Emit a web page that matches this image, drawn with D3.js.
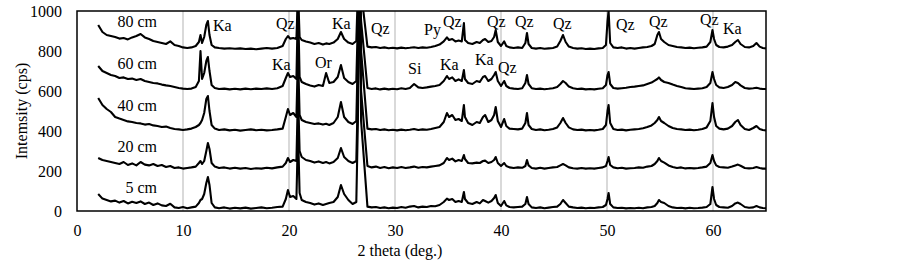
<!DOCTYPE html>
<html><head><meta charset="utf-8">
<script src="https://cdn.jsdelivr.net/npm/d3@7"></script>
<style>body{margin:0;background:#fff} svg{display:block} text{font-family:"Liberation Serif","Times New Roman",serif;fill:#000}</style>
</head><body><svg id="c" width="903" height="265"></svg>
<script>
// ---------- DATA ----------
const twoTheta = [
 2.0,2.4,2.8,3.2,3.6,4.0,4.4,4.8,5.2,5.6,6.0,6.4,6.8,7.2,7.6,8.0,8.4,8.8,9.2,9.6,10.0,10.4,10.8,
 11.2,11.5,11.65,11.8,12.0,12.2,12.35,12.5,12.7,13.0,
 13.4,13.9,14.4,14.9,15.4,15.9,16.4,16.9,17.4,17.9,18.4,18.9,19.4,
 19.7,19.9,20.1,20.4,20.7,20.85,21.0,21.2,
 21.6,22.0,22.4,22.8,23.2,23.5,23.8,24.2,24.6,24.9,25.2,25.6,26.0,26.35,
 26.5,26.6,26.7,26.8,
 27.4,27.8,28.2,28.6,29.0,29.4,29.8,30.2,30.6,31.0,31.4,31.8,32.2,32.6,33.0,33.4,33.8,34.2,34.6,
 34.9,35.1,35.4,35.7,36.0,36.3,36.5,36.6,36.9,37.3,37.7,38.0,38.3,38.5,38.8,39.1,39.35,39.5,39.7,40.0,40.3,40.5,40.8,
 41.2,41.6,42.0,42.3,42.45,42.6,42.9,43.3,43.7,44.1,44.5,44.9,45.3,
 45.6,45.85,46.1,46.4,
 46.8,47.2,47.6,48.0,48.4,48.8,49.2,49.6,49.9,
 50.05,50.15,50.3,50.6,
 51.0,51.4,51.8,52.2,52.6,53.0,53.4,53.8,54.2,54.5,
 54.75,54.9,55.1,55.4,55.8,
 56.2,56.6,57.0,57.4,57.8,58.2,58.6,59.0,59.4,59.75,
 59.95,60.1,60.3,60.6,
 61.0,61.4,61.8,62.1,62.35,62.6,63.0,63.4,63.8,64.1,64.4,64.7,65.0
];
const cps5 = [
 85,62,55,48,52,42,50,38,46,40,48,35,42,30,38,28,25,36,18,15,20,14,18,
 22,40,55,60,85,140,170,130,40,18,
 14,18,12,16,13,17,12,15,18,14,16,20,22,
 60,105,70,75,60,400,90,55,
 45,40,32,38,30,35,40,45,70,130,85,55,35,45,
 450,1100,1100,450,
 22,18,20,15,18,14,17,15,20,16,22,25,18,22,20,25,24,30,45,
 62,55,60,45,50,45,95,60,40,35,45,38,55,50,42,50,65,80,40,25,50,28,20,
 18,20,22,35,70,35,18,15,18,14,17,20,22,
 35,55,40,22,
 18,15,17,14,16,15,18,20,30,
 60,90,35,18,
 15,16,13,15,14,16,14,18,20,25,
 40,55,45,40,25,
 18,15,16,13,16,14,15,17,20,35,
 120,60,30,20,
 18,16,25,38,42,35,20,16,18,25,18,15,14
];
const cps20 = [
 265,255,250,245,240,235,245,230,238,228,245,232,228,235,225,230,220,225,215,218,212,215,218,
 222,240,250,235,250,300,340,310,240,222,
 215,218,212,216,212,215,210,214,212,216,213,218,222,
 240,265,245,255,250,600,300,270,
 255,250,242,248,240,245,238,245,265,315,270,250,240,250,
 600,1100,1100,600,
 225,218,222,215,220,214,218,215,220,215,218,222,216,220,218,222,225,228,240,
 265,255,262,248,255,250,280,260,240,238,242,240,250,252,240,245,255,270,240,225,240,225,218,
 215,218,216,225,255,228,215,212,216,212,215,218,220,
 228,235,228,218,
 214,212,215,212,214,212,215,218,225,
 250,270,230,218,
 214,216,212,214,215,218,216,222,225,235,
 250,265,250,242,228,
 220,215,218,213,215,213,215,218,222,240,
 280,250,228,220,
 218,216,222,228,232,226,215,213,215,220,215,212,212
];
const cps40 = [
 565,530,510,495,470,462,455,448,445,440,438,432,435,428,425,420,422,415,410,408,405,408,412,
 420,430,440,455,490,560,575,500,430,412,
 405,408,403,406,402,405,408,404,406,403,405,408,412,
 470,510,480,490,470,790,480,455,
 445,440,435,438,432,436,430,440,470,545,470,445,435,450,
 800,1100,1100,800,
 412,408,410,405,408,404,406,403,407,404,406,410,405,408,406,410,415,420,445,
 490,470,480,455,460,450,530,470,440,430,445,440,470,480,445,455,480,520,450,420,460,425,412,
 410,408,412,440,490,430,410,405,408,404,406,410,418,
 440,465,440,418,
 408,405,407,403,405,403,406,410,430,
 500,530,440,410,
 405,407,403,406,408,410,414,420,428,440,
 455,470,450,440,425,
 415,410,408,405,407,404,406,410,418,450,
 540,470,425,412,
 408,412,425,445,455,430,410,405,415,425,410,405,403
];
const cps60 = [
 725,700,690,680,675,665,668,660,662,655,660,650,645,640,638,632,628,625,620,615,612,610,612,
 620,650,800,660,690,750,770,700,630,615,
 610,612,608,611,608,612,609,612,610,613,610,614,625,
 665,690,670,675,660,1050,670,645,
 635,628,622,630,625,690,640,645,670,730,665,645,635,650,
 950,1100,1100,950,
 615,610,613,608,612,608,611,609,614,610,615,635,618,615,618,622,625,630,650,
 675,660,668,650,658,650,705,660,640,635,650,645,670,675,650,660,680,695,650,625,650,625,615,
 612,610,614,640,680,635,614,610,612,609,611,614,620,
 635,650,640,622,
 614,610,612,608,610,608,611,614,630,
 680,695,635,615,
 612,614,616,620,622,625,628,635,642,652,
 660,668,655,645,640,
 632,625,620,614,612,610,612,614,620,640,
 695,660,630,618,
 615,620,630,645,640,628,615,612,614,616,612,610,610
];
const cps80 = [
 930,895,880,875,870,862,865,858,868,875,885,868,860,850,845,840,835,848,830,825,818,815,818,
 825,845,880,840,870,930,950,880,830,818,
 815,812,814,811,813,810,812,809,812,815,812,815,825,
 860,875,862,865,860,1100,870,855,
 848,842,835,840,832,838,835,842,860,895,860,842,835,850,
 1100,1100,1100,1100,
 822,818,820,815,818,814,816,813,817,814,816,819,815,818,816,820,825,832,848,
 868,855,860,848,852,848,940,855,840,835,845,840,855,860,845,850,870,905,845,825,848,825,818,
 815,818,815,840,890,835,815,812,815,811,813,815,822,
 850,880,845,822,
 815,812,814,810,812,810,813,815,830,
 950,1000,840,818,
 815,818,812,815,812,815,818,820,825,835,
 880,895,860,845,830,
 825,820,818,815,817,814,816,818,822,845,
 905,860,830,820,
 818,822,830,845,855,835,820,818,825,840,822,815,813
];
const seriesNames = ["5 cm","20 cm","40 cm","60 cm","80 cm"];
const seriesValues = [cps5, cps20, cps40, cps60, cps80];
const xTicks = [0,10,20,30,40,50,60];
const yTicks = [0,200,400,600,800,1000];
const gridAngles = [10,20,30,40,50,60];
// annotation anchors (2theta, cps) - text start / baseline
const seriesLabelAt = [[7.55,90],[7.55,295],[7.55,500],[7.55,710],[7.55,920]];
const peakLabels = ["Ka","Qz","Ka","Ka","Or","Qz","Py","Qz","Qz","Qz","Qz","Si","Ka","Ka","Qz","Qz","Qz","Qz","Ka"];
const peakLabelAt = [[12.83,900],[18.77,910],[18.4,705],[24.06,910],[22.45,715],[27.74,885],[32.74,880],[34.53,920],[38.68,920],[41.32,920],[44.91,910],[31.23,685],[34.25,705],[37.55,730],[39.72,690],[50.85,905],[53.96,920],[58.77,930],[60.94,885]];

// ---------- CHART ----------
const FONT = '"Liberation Serif","Times New Roman",serif';
const svg = d3.select("#c");
const L=77, R=766, T=11, B=211;
const x = d3.scaleLinear().domain([0,65]).range([L,R]);
const y = d3.scaleLinear().domain([0,1000]).range([B,T]);

const lens = seriesValues.map(a=>a.length);
if (lens.some(n=>n!==twoTheta.length)) {
  svg.append("text").attr("x",400).attr("y",130).style("fill","red").text("LEN "+twoTheta.length+" "+lens.join(","));
}

svg.append("defs").append("clipPath").attr("id","clip")
  .append("rect").attr("x",L).attr("y",T).attr("width",R-L).attr("height",B-T);

svg.append("g").selectAll("line").data(gridAngles).join("line")
  .attr("x1",d=>x(d)).attr("x2",d=>x(d)).attr("y1",T).attr("y2",B)
  .attr("stroke","#d9d9d9").attr("stroke-width",2);

const line = d3.line().x((d,i)=>x(twoTheta[i])).y(d=>y(d));
svg.append("g").attr("clip-path","url(#clip)").selectAll("path").data(seriesValues).join("path")
  .attr("d",d=>line(d)).attr("fill","none").attr("stroke","#000")
  .attr("stroke-width",2.1).attr("stroke-linejoin","round");

svg.append("rect").attr("x",L).attr("y",T).attr("width",R-L).attr("height",B-T)
  .attr("fill","none").attr("stroke","#000").attr("stroke-width",1.5);

const xa = svg.append("g").attr("transform",`translate(0,${B})`)
  .call(d3.axisBottom(x).tickValues(xTicks).tickSize(0).tickPadding(14).tickFormat(d3.format("d")))
  .attr("font-family",FONT).attr("font-size",16);
xa.select(".domain").remove();
xa.selectAll("text").style("font-size","16px").style("font-family",FONT);

const ya = svg.append("g").attr("transform",`translate(${L},0)`)
  .call(d3.axisLeft(y).tickValues(yTicks).tickSize(0).tickPadding(15).tickFormat(d3.format("d")))
  .attr("font-family",FONT).attr("font-size",16);
ya.select(".domain").remove();
ya.selectAll("text").style("font-size","16px").style("font-family",FONT);

svg.append("text").attr("x",400).attr("y",256).attr("text-anchor","middle")
  .style("font-size","16px").text("2 theta (deg.)");
svg.append("text").attr("transform",`translate(27,${(T+B)/2}) rotate(-90)`).attr("text-anchor","middle")
  .style("font-size","16px").text("Intemsity (cps)");

svg.append("g").selectAll("text").data(seriesNames).join("text")
  .attr("x",(d,i)=>x(seriesLabelAt[i][0])).attr("y",(d,i)=>y(seriesLabelAt[i][1]))
  .attr("text-anchor","end").style("font-size","16px").text(d=>d);

svg.append("g").selectAll("text").data(peakLabels).join("text")
  .attr("x",(d,i)=>x(peakLabelAt[i][0])).attr("y",(d,i)=>y(peakLabelAt[i][1]))
  .style("font-size","16px").text(d=>d);
</script></body></html>
